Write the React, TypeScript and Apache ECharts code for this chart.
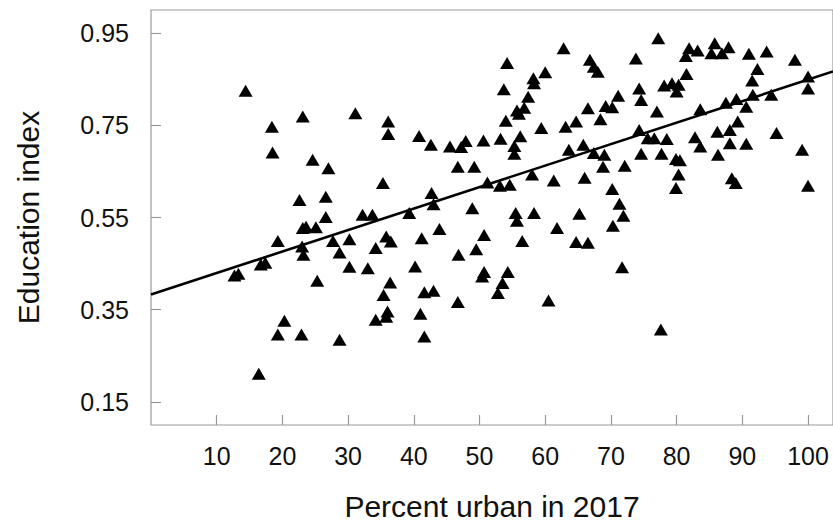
import React, { useEffect, useRef } from "react";
import * as echarts from "echarts";

// [percent urban in 2017, education index]
const countryPoints: [number, number][] = [
  [14.4, 0.825], [23.1, 0.769], [31.1, 0.776], [18.4, 0.747], [18.5, 0.691],
  [24.6, 0.675], [27.0, 0.657], [22.6, 0.588], [26.6, 0.595], [26.6, 0.551],
  [32.2, 0.556], [33.7, 0.556], [23.1, 0.527], [23.6, 0.530], [25.1, 0.529],
  [19.3, 0.499], [23.0, 0.487], [27.7, 0.499], [30.2, 0.503], [28.7, 0.474],
  [23.2, 0.469], [34.2, 0.484], [12.7, 0.424], [13.3, 0.428], [16.7, 0.448],
  [17.4, 0.452], [30.2, 0.443], [33.0, 0.440], [25.3, 0.413], [20.3, 0.326],
  [19.3, 0.296], [22.9, 0.296], [28.7, 0.285], [34.2, 0.328], [16.4, 0.211],
  [35.3, 0.625],
  [62.8, 0.917], [54.2, 0.885], [66.8, 0.892], [67.4, 0.877], [68.0, 0.866],
  [60.0, 0.865], [58.2, 0.852], [58.3, 0.841], [53.7, 0.828], [57.4, 0.812],
  [56.8, 0.788], [55.7, 0.782], [56.0, 0.775], [54.0, 0.760], [66.5, 0.787],
  [68.4, 0.763], [59.4, 0.744], [63.1, 0.747], [64.7, 0.758], [36.1, 0.758],
  [36.1, 0.731], [40.8, 0.727], [42.6, 0.708], [45.5, 0.704], [47.2, 0.703],
  [47.9, 0.716], [50.6, 0.717], [53.2, 0.721], [56.2, 0.726], [55.3, 0.705],
  [55.3, 0.688], [63.6, 0.697], [65.8, 0.708], [67.4, 0.690], [68.8, 0.660],
  [46.7, 0.660], [49.2, 0.660], [42.7, 0.603], [43.0, 0.579], [51.2, 0.626],
  [53.1, 0.619], [54.6, 0.621], [58.0, 0.643], [61.3, 0.630], [66.0, 0.636],
  [48.9, 0.570], [39.3, 0.560], [55.5, 0.560], [58.3, 0.560], [65.2, 0.558],
  [55.7, 0.543], [35.8, 0.509], [36.5, 0.498], [41.2, 0.505], [43.9, 0.525],
  [50.7, 0.512], [56.5, 0.499], [61.8, 0.527], [64.7, 0.497], [66.5, 0.495],
  [46.8, 0.469], [49.5, 0.481], [40.2, 0.444], [50.7, 0.432], [50.4, 0.422],
  [54.3, 0.432], [53.5, 0.408], [52.8, 0.386], [36.4, 0.409], [35.4, 0.382],
  [41.6, 0.388], [43.0, 0.391], [46.7, 0.367], [60.5, 0.370], [36.0, 0.346],
  [35.8, 0.335], [41.0, 0.341], [41.6, 0.292],
  [77.2, 0.939], [81.9, 0.917], [81.4, 0.900], [83.2, 0.912], [85.8, 0.928],
  [85.3, 0.906], [86.9, 0.906], [87.9, 0.919], [91.0, 0.905], [93.7, 0.910],
  [98.0, 0.892], [73.8, 0.895], [92.3, 0.872], [91.5, 0.847], [81.5, 0.861],
  [100.0, 0.856], [100.0, 0.830], [78.1, 0.836], [79.3, 0.841], [80.3, 0.838],
  [80.0, 0.823], [74.3, 0.830], [74.6, 0.805], [71.1, 0.814], [69.2, 0.792],
  [70.2, 0.789], [77.0, 0.780], [83.6, 0.785], [87.5, 0.799], [89.1, 0.807],
  [91.6, 0.816], [94.4, 0.816], [90.6, 0.790], [74.3, 0.740], [75.6, 0.722],
  [76.6, 0.722], [78.5, 0.720], [82.8, 0.724], [86.2, 0.736], [88.1, 0.740],
  [89.3, 0.758], [95.2, 0.733], [83.6, 0.704], [88.1, 0.711], [90.6, 0.710],
  [99.1, 0.697], [69.0, 0.686], [72.1, 0.662], [74.6, 0.688], [77.7, 0.688],
  [79.9, 0.677], [80.5, 0.674], [86.3, 0.686], [80.3, 0.643], [79.9, 0.614],
  [88.4, 0.635], [89.0, 0.625], [100.0, 0.619], [70.2, 0.612], [71.3, 0.580],
  [71.9, 0.554], [70.3, 0.532], [71.7, 0.442], [77.6, 0.307],
];

const xTicks: number[] = [10, 20, 30, 40, 50, 60, 70, 80, 90, 100];
const yTicks: number[] = [0.15, 0.35, 0.55, 0.75, 0.95];

const fitIntercept = 0.383;
const fitSlope = 0.00466;

const X_MIN = 0;
const X_MAX = 103.8;
const Y_MIN = 0.1;
const Y_MAX = 1.0;

const FONT = "'Liberation Sans', Arial, Helvetica, sans-serif";
const AXIS_GRAY = "#9a9a9a";

export default function App() {
  const ref = useRef<HTMLDivElement>(null);

  useEffect(() => {
    if (!ref.current) return;
    const chart = echarts.init(ref.current, undefined, { renderer: "svg" });
    const fitLine: [number, number][] = [
      [X_MIN, fitIntercept + fitSlope * X_MIN],
      [X_MAX, fitIntercept + fitSlope * X_MAX],
    ];
    chart.setOption({
      animation: false,
      backgroundColor: "#ffffff",
      grid: {
        left: 151,
        right: -2,
        top: 10,
        bottom: 102,
        show: true,
        borderColor: AXIS_GRAY,
        borderWidth: 1.2,
        backgroundColor: "transparent",
      },
      xAxis: {
        type: "value",
        min: X_MIN,
        max: X_MAX,
        name: "Percent urban in 2017",
        nameLocation: "middle",
        nameGap: 66,
        nameTextStyle: { fontFamily: FONT, fontSize: 30, color: "#111" },
        axisLine: { show: false },
        splitLine: { show: false },
        axisTick: {
          show: true,
          inside: true,
          length: 10,
          customValues: xTicks,
          lineStyle: { color: AXIS_GRAY, width: 1.2 },
        },
        axisLabel: {
          customValues: xTicks,
          margin: 18,
          fontFamily: FONT,
          fontSize: 25,
          color: "#111",
        },
      },
      yAxis: {
        type: "value",
        min: Y_MIN,
        max: Y_MAX,
        name: "Education index",
        nameLocation: "middle",
        nameGap: 108,
        nameRotate: 90,
        nameTextStyle: { fontFamily: FONT, fontSize: 30, color: "#111" },
        axisLine: { show: false },
        splitLine: { show: false },
        axisTick: {
          show: true,
          inside: true,
          length: 10,
          customValues: yTicks,
          lineStyle: { color: AXIS_GRAY, width: 1.2 },
        },
        axisLabel: {
          customValues: yTicks,
          margin: 22,
          fontFamily: FONT,
          fontSize: 25,
          color: "#111",
          formatter: (v: number) => v.toFixed(2),
        },
      },
      series: [
        {
          type: "scatter",
          data: countryPoints,
          symbol: "triangle",
          symbolSize: [14, 12],
          itemStyle: { color: "#000000", opacity: 1 },
          silent: true,
          z: 2,
        },
        {
          type: "line",
          data: fitLine,
          showSymbol: false,
          symbol: "none",
          lineStyle: { color: "#000000", width: 2.6 },
          silent: true,
          z: 3,
        },
      ],
    });
    return () => chart.dispose();
  }, []);

  return (
    <div
      ref={ref}
      style={{ position: "fixed", left: 0, top: 0, width: 833, height: 527, background: "#fff" }}
    />
  );
}
